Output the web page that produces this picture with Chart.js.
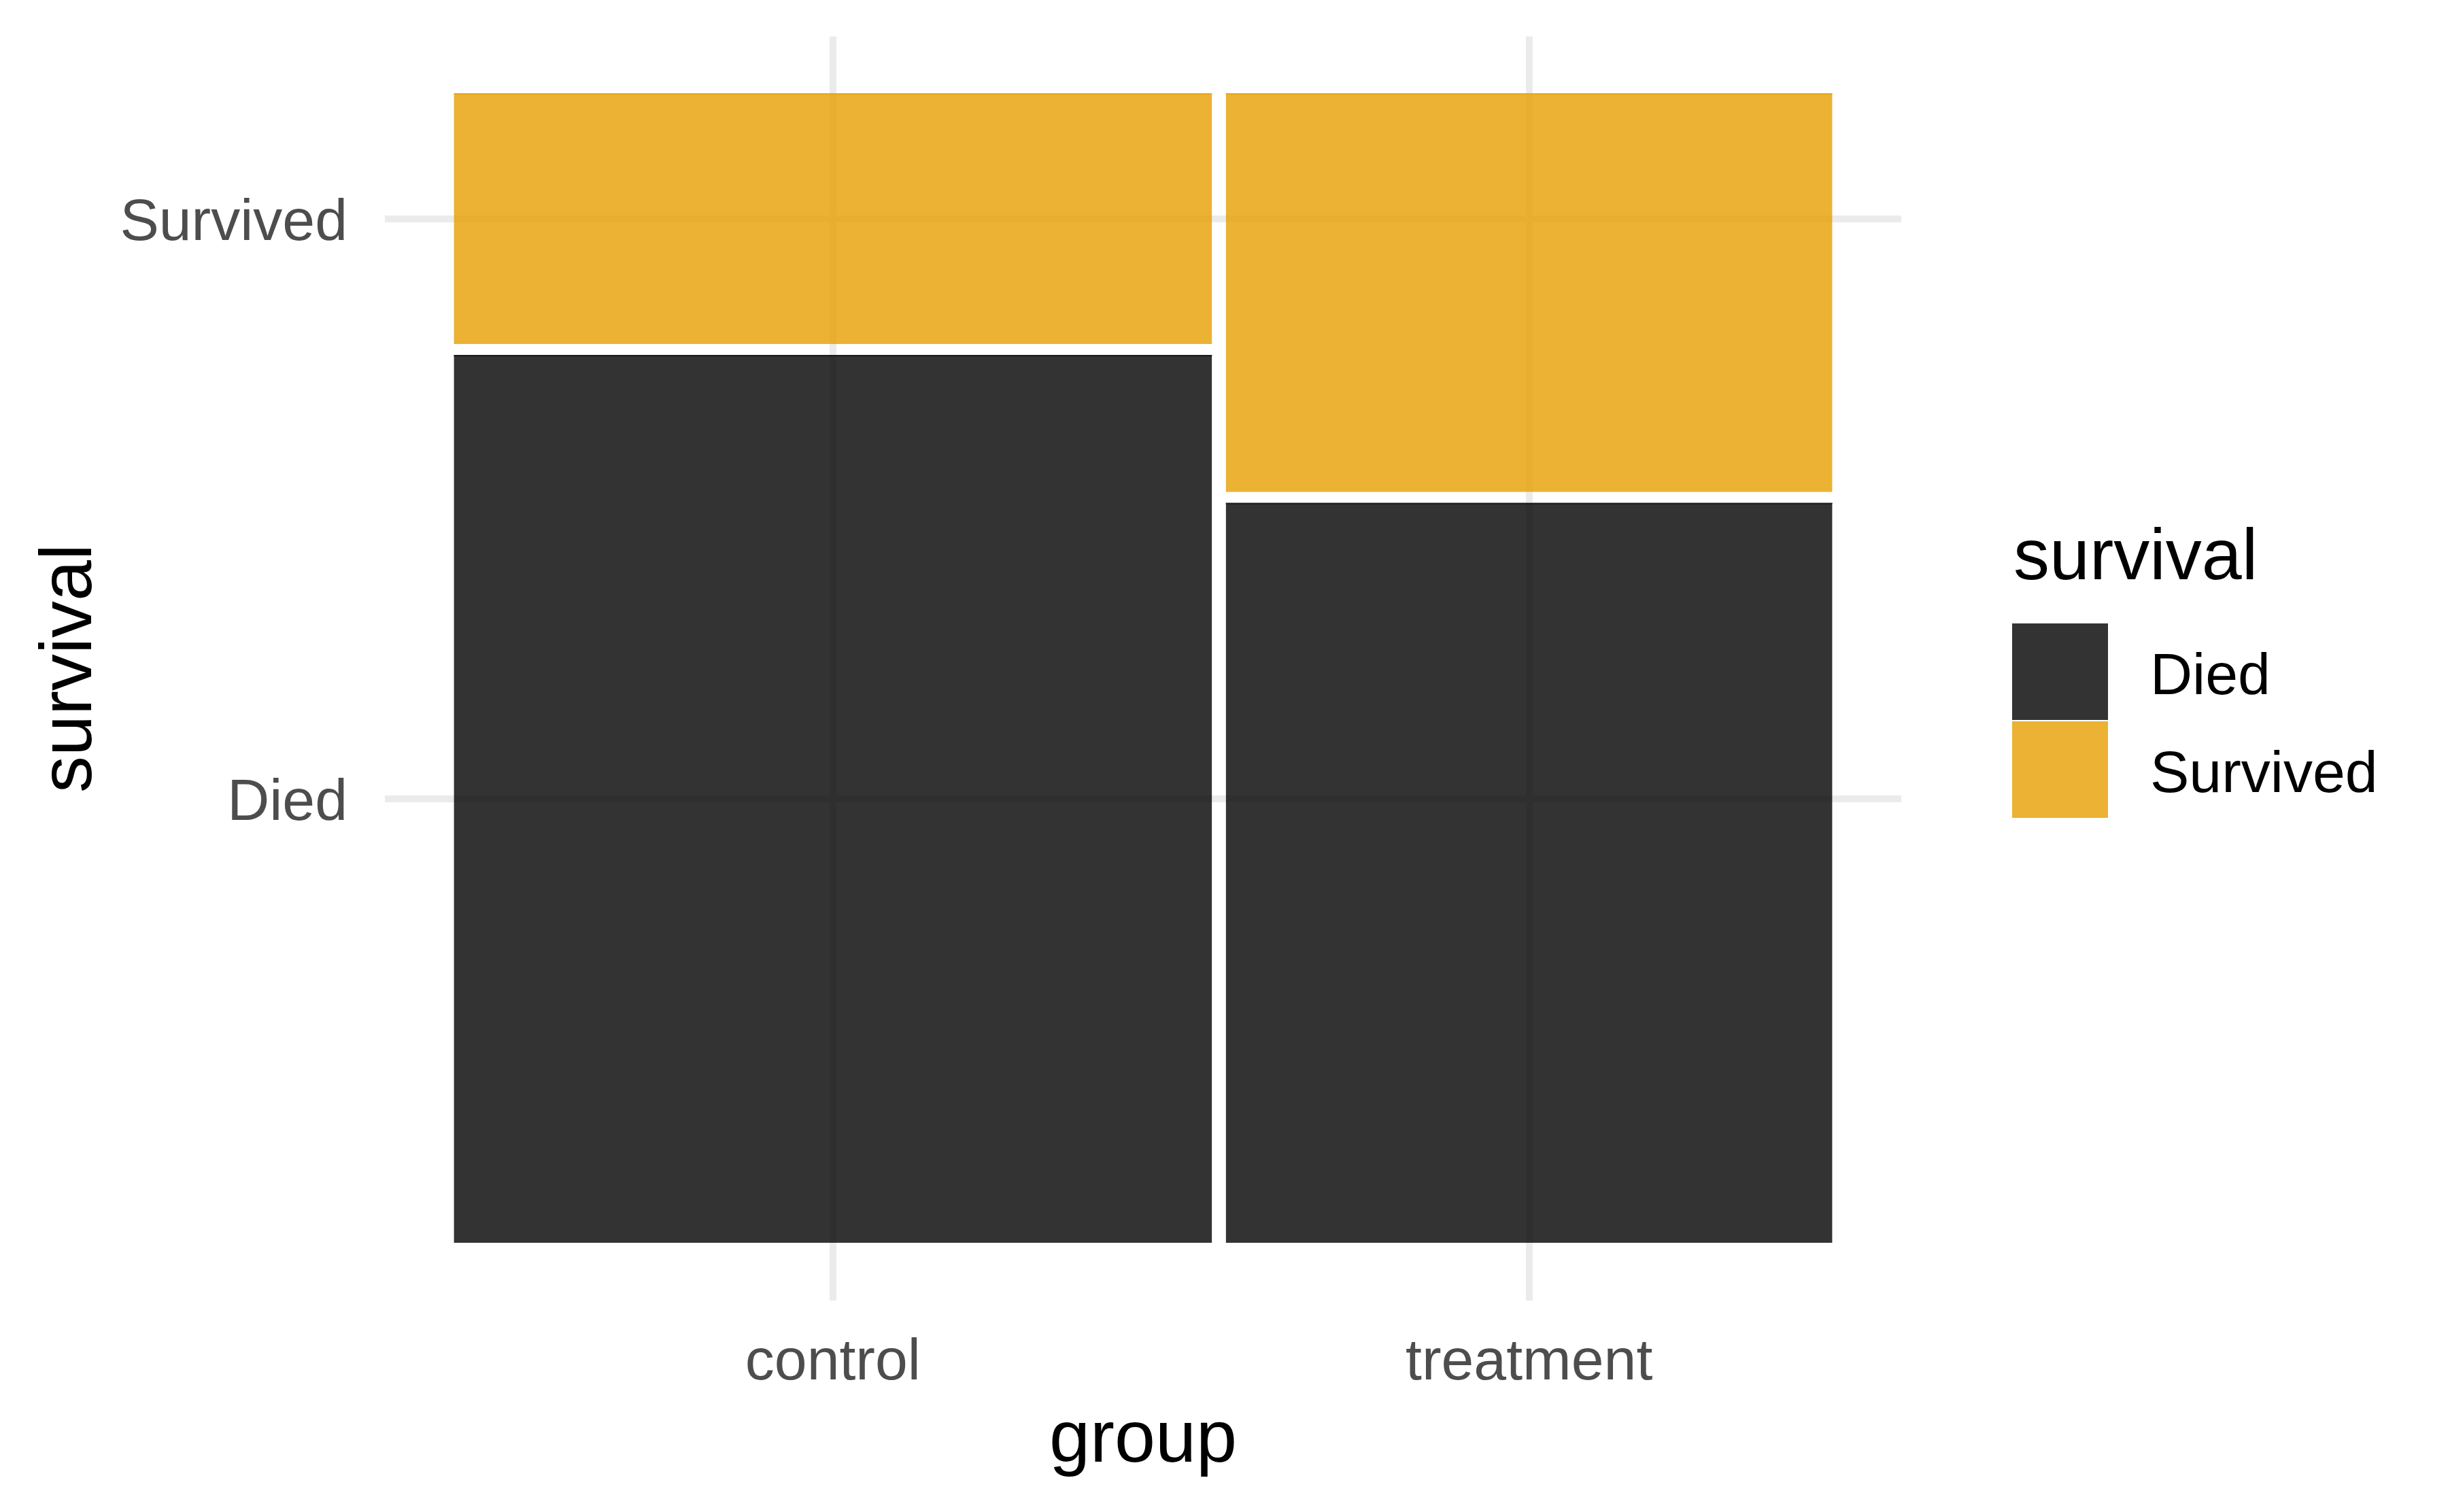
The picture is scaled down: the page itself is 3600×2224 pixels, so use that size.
<!DOCTYPE html>
<html lang="en">
<head>
    <meta charset="UTF-8">
    <title>survival by group</title>
    <script src="https://cdn.jsdelivr.net/npm/chart.js@4.4.1/dist/chart.umd.min.js"></script>
    <style>
        body { margin: 0; background: #ffffff; }
        #chartContainer { width: 3600px; height: 2224px; }
    </style>
</head>
<body>
    <div id="chartContainer">
        <canvas id="mosaicChart" width="3600" height="2224"></canvas>
    </div>

    <script>
        // counts per group
        const groups = ['control', 'treatment'];
        const outcomes = ['Died', 'Survived'];
        const diedCounts = [39, 26];
        const survivedCounts = [11, 14];
        const outcomeColors = ['rgba(0, 0, 0, 0.8)', 'rgba(230, 159, 0, 0.8)'];

        const xTitle = 'group';
        const yTitle = 'survival';
        const legendTitle = 'survival';

        const gap = 0.01; // space between tiles, like ggmosaic's offset
        const fontFamily = '"Liberation Sans", Arial, Helvetica, sans-serif';

        // column width follows group size, tile height follows outcome share
        const totals = groups.map((g, i) => diedCounts[i] + survivedCounts[i]);
        const grandTotal = totals.reduce((a, b) => a + b, 0);

        const tiles = [];
        let xStart = 0;
        groups.forEach((g, i) => {
            const w = (1 - gap * (groups.length - 1)) * totals[i] / grandTotal;
            let yStart = 0;
            [diedCounts[i], survivedCounts[i]].forEach((n, k) => {
                const h = (1 - gap * (outcomes.length - 1)) * n / totals[i];
                tiles.push({ group: i, outcome: k, x0: xStart, x1: xStart + w, y0: yStart, y1: yStart + h });
                yStart += h + gap;
            });
            xStart += w + gap;
        });

        // ticks sit in the middle of the columns / of the first column's tiles
        const xTickValues = groups.map((g, i) => {
            const t = tiles.find(t => t.group === i);
            return (t.x0 + t.x1) / 2;
        });
        const yTickValues = outcomes.map((o, k) => {
            const t = tiles.find(t => t.group === 0 && t.outcome === k);
            return (t.y0 + t.y1) / 2;
        });

        // each tile is a flat line at its top edge, filled down to its bottom edge
        const datasets = tiles.map(t => ({
            label: groups[t.group] + ' ' + outcomes[t.outcome],
            data: [{ x: t.x0, y: t.y1 }, { x: t.x1, y: t.y1 }],
            fill: { value: t.y0 },
            backgroundColor: outcomeColors[t.outcome],
            borderColor: outcomeColors[t.outcome],
            borderWidth: 2,
            pointRadius: 0,
            tension: 0
        }));

        // legend drawn at the right, the way ggplot puts it
        const sideLegend = {
            id: 'sideLegend',
            afterDraw(chart) {
                const ctx = chart.ctx;
                ctx.save();
                ctx.textAlign = 'left';
                ctx.textBaseline = 'alphabetic';
                ctx.fillStyle = '#000000';
                ctx.font = `106px ${fontFamily}`;
                ctx.fillText(legendTitle, 2961, 852);

                outcomes.forEach((o, k) => {
                    const top = 917 + k * 144;
                    ctx.fillStyle = outcomeColors[k];
                    ctx.fillRect(2959, top, 141, 142);
                    ctx.fillStyle = '#000000';
                    ctx.font = `86px ${fontFamily}`;
                    ctx.fillText(o, 3162, top + 104);
                });
                ctx.restore();
            }
        };

        const gridColor = '#EBEBEB';

        // fixed axis boxes, and no extra room for tick labels at the ends
        function fixBox(scale, size) {
            if (scale.isHorizontal()) {
                scale.height = size;
                scale.paddingLeft = 0;
                scale.paddingRight = 0;
            } else {
                scale.width = size;
                scale.paddingTop = 0;
                scale.paddingBottom = 0;
            }
        }

        new Chart(document.getElementById('mosaicChart'), {
            type: 'line',
            data: { datasets: datasets },
            plugins: [sideLegend],
            options: {
                responsive: false,
                animation: false,
                devicePixelRatio: 1,
                events: [],
                layout: {
                    padding: { top: 53.5, right: 804, bottom: 0, left: 0 }
                },
                plugins: {
                    legend: { display: false },
                    tooltip: { enabled: false }
                },
                scales: {
                    x: {
                        type: 'linear',
                        min: -0.05,
                        max: 1.05,
                        afterBuildTicks: scale => {
                            scale.ticks = xTickValues.map(v => ({ value: v }));
                        },
                        afterFit: scale => fixBox(scale, 311.5),
                        border: { display: false },
                        grid: { color: gridColor, lineWidth: 10, drawTicks: false },
                        ticks: {
                            autoSkip: false,
                            maxRotation: 0,
                            padding: 41,
                            color: '#4D4D4D',
                            font: { family: fontFamily, size: 86, lineHeight: 1.2 },
                            callback: (value, index) => groups[index]
                        },
                        title: {
                            display: true,
                            text: xTitle,
                            color: '#000000',
                            padding: { top: 0, bottom: 39 },
                            font: { family: fontFamily, size: 108, lineHeight: 1.2 }
                        }
                    },
                    y: {
                        type: 'linear',
                        min: -0.05,
                        max: 1.05,
                        afterBuildTicks: scale => {
                            scale.ticks = yTickValues.map(v => ({ value: v }));
                        },
                        afterFit: scale => fixBox(scale, 566),
                        border: { display: false },
                        grid: { color: gridColor, lineWidth: 10, drawTicks: false },
                        ticks: {
                            autoSkip: false,
                            padding: 55,
                            labelOffset: 7,
                            color: '#4D4D4D',
                            font: { family: fontFamily, size: 86, lineHeight: 1.2 },
                            callback: (value, index) => outcomes[index]
                        },
                        title: {
                            display: true,
                            text: yTitle,
                            color: '#000000',
                            padding: { top: 39, bottom: 0 },
                            font: { family: fontFamily, size: 108, lineHeight: 1.2 }
                        }
                    }
                }
            }
        });
    </script>
</body>
</html>
